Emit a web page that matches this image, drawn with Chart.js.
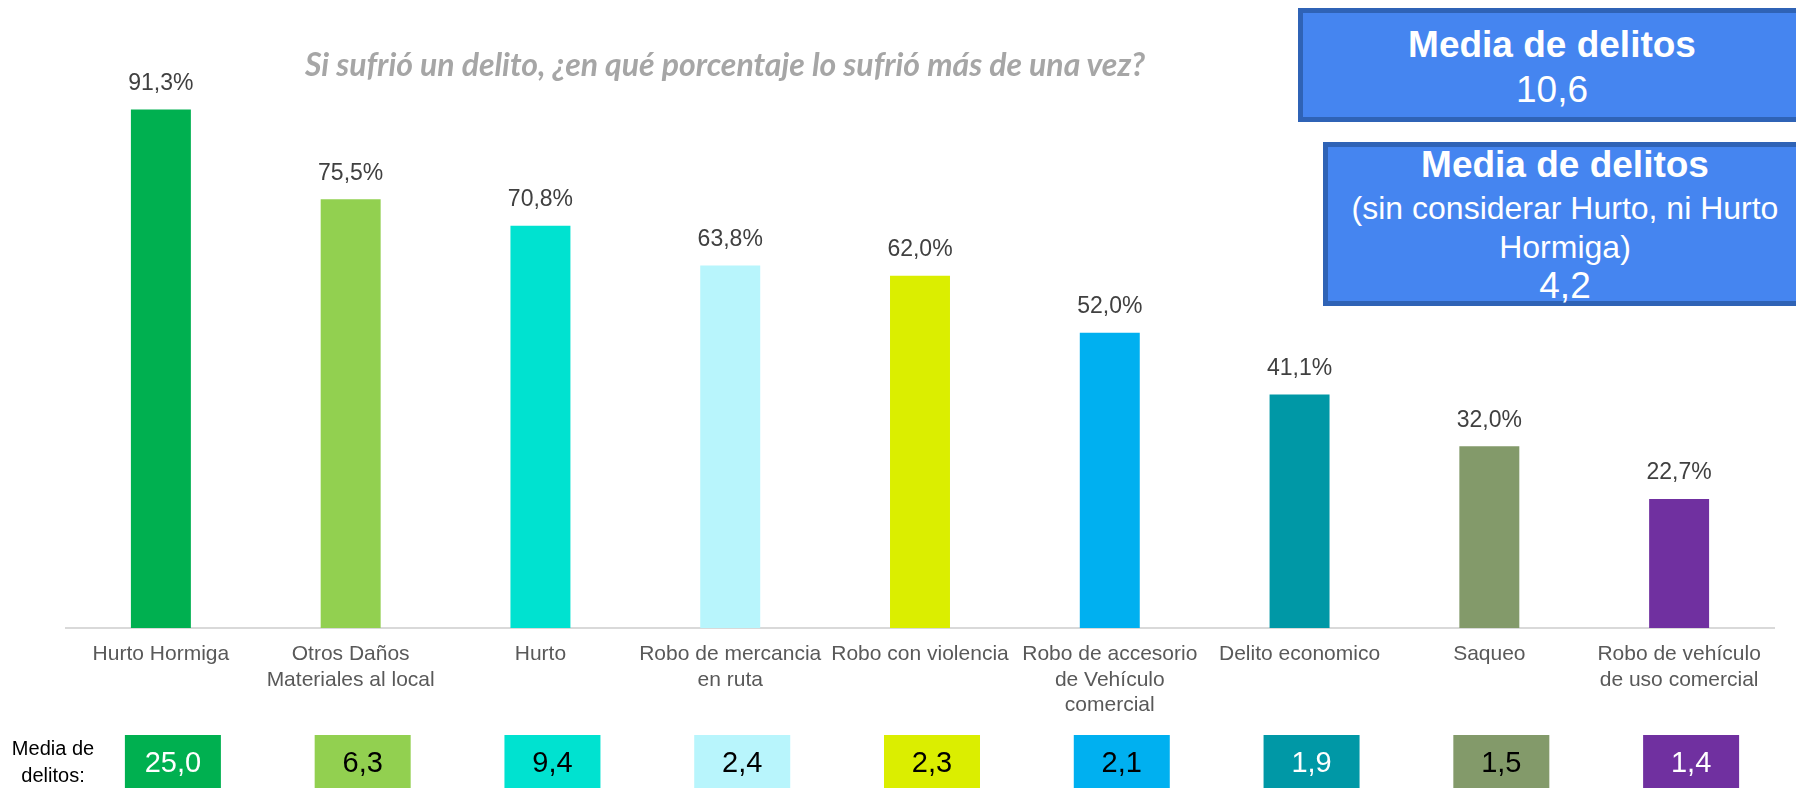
<!DOCTYPE html>
<html>
<head>
<meta charset="utf-8">
<script src="https://cdn.jsdelivr.net/npm/chart.js@4/dist/chart.umd.min.js"></script>
<style>
  html, body { margin: 0; padding: 0; background: #fff; }
  #wrap { position: relative; width: 1796px; height: 788px; overflow: hidden; font-family: "Liberation Sans", Arial, sans-serif; }
  #chart { position: absolute; left: 0; top: 0; }
  .title { position: absolute; left: 725px; top: 63px; transform: translate(-50%, -50%); white-space: nowrap;
           font-family: Lato, sans-serif; font-weight: bold; font-style: italic; font-size: 32px; color: #a6a6a6; }
  .box { position: absolute; box-sizing: border-box; background: #4585f0; border: 5px solid #2f63b6; color: #fff; text-align: center; }
  .big { font-weight: bold; font-size: 37px; }
  .num { font-size: 37px; }
  .sub { font-size: 32px; }
  .side { position: absolute; left: 53px; top: 762px; transform: translate(-50%, -50%); text-align: center;
          font-size: 20px; line-height: 27px; color: #000; }
</style>
</head>
<body>
<div id="wrap">
  <canvas id="chart" width="1796" height="788"></canvas>
  <div class="title">Si sufrió un delito, ¿en qué porcentaje lo sufrió más de una vez?</div>
  <div class="box" style="left:1298px; top:8px; width:508px; height:114px; padding-top:9px;">
    <div class="big" style="line-height:45px;">Media de delitos</div>
    <div class="num" style="line-height:45px;">10,6</div>
  </div>
  <div class="box" style="left:1323px; top:142px; width:484px; height:164px;">
    <div class="big" style="line-height:40px; margin-top:-2px;">Media de delitos</div>
    <div class="sub" style="line-height:40px; margin-top:3px;">(sin considerar Hurto, ni Hurto</div>
    <div class="sub" style="line-height:38px;">Hormiga)</div>
    <div class="num" style="line-height:38px; margin-top:1px;">4,2</div>
  </div>
  <div class="side">Media de<br>delitos:</div>
</div>
<script>
// categorias y valores
var categories = [
  'Hurto Hormiga',
  ['Otros Daños', 'Materiales al local'],
  'Hurto',
  ['Robo de mercancia', 'en ruta'],
  'Robo con violencia',
  ['Robo de accesorio', 'de Vehículo', 'comercial'],
  'Delito economico',
  'Saqueo',
  ['Robo de vehículo', 'de uso comercial']
];
var percentRepeat = [91.3, 75.5, 70.8, 63.8, 62.0, 52.0, 41.1, 32.0, 22.7];
var mediaDelitos = [25.0, 6.3, 9.4, 2.4, 2.3, 2.1, 1.9, 1.5, 1.4];
var barColors = ['#00b050', '#92d050', '#00e2d0', '#b8f5fc', '#dbee00', '#00b0f0', '#0098a6', '#839a6a', '#7030a0'];
var mediaTextColors = ['#fff', '#000', '#000', '#000', '#000', '#000', '#fff', '#000', '#fff'];

function fmt(v) {
  return v.toFixed(1).replace('.', ',');
}

// etiquetas de porcentaje encima de cada barra
var valueLabels = {
  id: 'valueLabels',
  afterDatasetsDraw: function(chart) {
    var ctx = chart.ctx;
    var meta = chart.getDatasetMeta(0);
    ctx.save();
    ctx.font = '23px "Liberation Sans", Arial, sans-serif';
    ctx.fillStyle = '#404040';
    ctx.textAlign = 'center';
    ctx.textBaseline = 'middle';
    meta.data.forEach(function(bar, i) {
      ctx.fillText(fmt(percentRepeat[i]) + '%', bar.x, bar.y - 26);
    });
    ctx.restore();
  }
};

// fila inferior con la media de delitos
var mediaRow = {
  id: 'mediaRow',
  afterDraw: function(chart) {
    var ctx = chart.ctx;
    var xs = chart.scales.x;
    ctx.save();
    ctx.font = '29px "Liberation Sans", Arial, sans-serif';
    ctx.textAlign = 'center';
    ctx.textBaseline = 'middle';
    mediaDelitos.forEach(function(v, i) {
      var cx = xs.getPixelForValue(i) + 12;
      ctx.fillStyle = barColors[i];
      ctx.fillRect(cx - 48, 735, 96, 60);
      ctx.fillStyle = mediaTextColors[i];
      ctx.fillText(fmt(v), cx, 764);
    });
    ctx.restore();
  }
};

new Chart(document.getElementById('chart'), {
  type: 'bar',
  data: {
    labels: categories,
    datasets: [{
      data: percentRepeat,
      backgroundColor: barColors,
      barPercentage: 0.316,
      categoryPercentage: 1
    }]
  },
  options: {
    responsive: false,
    animation: false,
    layout: { padding: { left: 66, right: 22, top: 60, bottom: 0 } },
    plugins: { legend: { display: false }, tooltip: { enabled: false } },
    scales: {
      y: { display: false, min: 0, max: 100 },
      x: {
        grid: { display: false, drawTicks: false },
        border: { display: true, color: '#d9d9d9', width: 2 },
        ticks: {
          color: '#595959',
          padding: 14,
          maxRotation: 0,
          autoSkip: false,
          font: { family: '"Liberation Sans", Arial, sans-serif', size: 21, lineHeight: 1.2 }
        },
        afterFit: function(s) { s.height = 160; }
      }
    }
  },
  plugins: [valueLabels, mediaRow]
});
</script>
</body>
</html>
